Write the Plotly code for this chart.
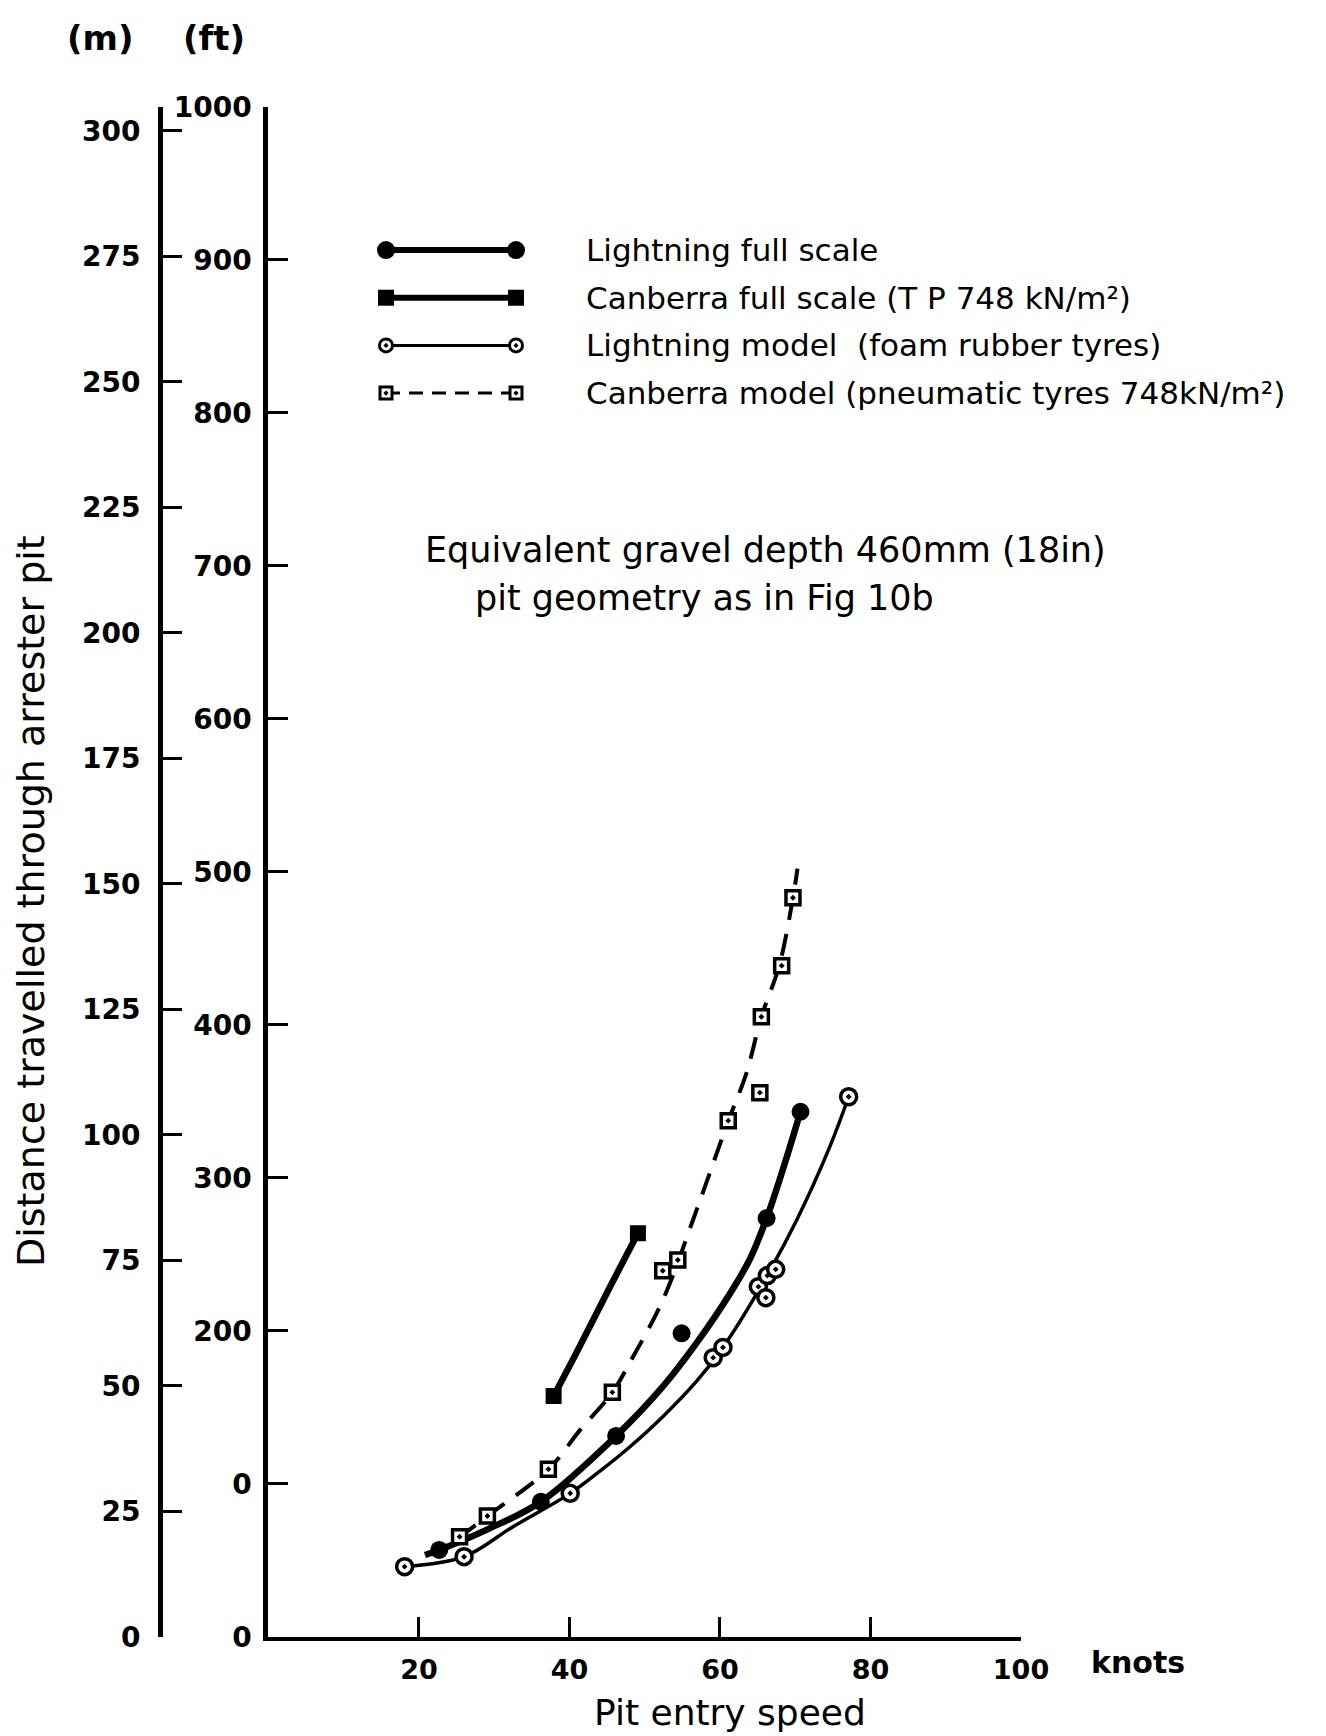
import plotly.graph_objects as go

# ---------------- data ----------------
# Lightning full scale (filled circles) - speed in knots, distance in ft
lf_speed = [22.7, 36.2, 46.2, 54.9, 66.2, 70.7]
lf_dist = [56.7, 88.2, 131.2, 198.3, 273.5, 343.1]
lf_curve_speed = [20.8, 22.7, 29.4, 36.2, 46.2, 52.4, 56.9, 61.3, 64.0, 66.2, 68.4, 70.7]
lf_curve_dist = [53.4, 56.7, 70.8, 88.2, 131.2, 163.4, 192.0, 224.0, 247.0, 273.5, 306.0, 343.1]

# Canberra full scale (filled squares)
cf_speed = [37.9, 49.1]
cf_dist = [157.3, 263.7]
cf_curve_speed = [37.9, 40.5, 43.1, 46.0, 49.1]
cf_curve_dist = [157.3, 181.5, 206.5, 234.5, 263.7]

# Lightning model (open circles)
lm_speed = [18.1, 26.0, 40.1, 59.1, 60.4, 65.1, 66.1, 66.3, 67.4, 77.1]
lm_dist = [45.8, 52.3, 93.7, 182.4, 189.1, 228.8, 221.6, 236.0, 240.1, 352.9]
lm_curve_speed = [18.1, 26.0, 32.5, 40.1, 44.0, 48.0, 52.4, 56.9, 60.4, 65.1, 70.2, 74.6, 77.1]
lm_curve_dist = [45.8, 52.3, 71.9, 93.7, 108.0, 124.0, 143.8, 167.0, 189.1, 226.0, 272.4, 320.3, 352.9]

# Canberra model (open squares, dashed)
cm_speed = [25.4, 29.1, 37.2, 45.7, 52.4, 54.4, 61.1, 65.3, 65.5, 68.2, 69.7]
cm_dist = [65.4, 78.9, 109.4, 159.7, 239.2, 246.2, 337.3, 355.6, 405.2, 438.6, 483.0]
cm_curve_speed = [21.0, 25.4, 29.1, 37.2, 41.4, 45.7, 48.0, 52.4, 56.9, 61.1, 63.5, 65.5, 67.9, 69.7, 70.3]
cm_curve_dist = [53.0, 65.4, 78.9, 109.4, 135.0, 159.7, 179.0, 220.0, 279.0, 337.0, 368.0, 405.0, 439.0, 483.0, 502.0]

# axis ticks
x_ticks = [20, 40, 60, 80, 100]
x_ticklabels = ["20", "40", "60", "80", "100"]
ft_ticks = [0, 100, 200, 300, 400, 500, 600, 700, 800, 900, 1000]
ft_ticklabels = ["0", "0", "200", "300", "400", "500", "600", "700", "800", "900", "1000"]
m_ticks = [0, 25, 50, 75, 100, 125, 150, 175, 200, 225, 250, 275, 300]
m_ticklabels = [str(v) for v in m_ticks]

legend_labels = [
    "Lightning full scale",
    "Canberra full scale (T P 748 kN/m²)",
    "Lightning model  (foam rubber tyres)",
    "Canberra model (pneumatic tyres 748kN/m²)",
]
legend_rows = [0, 1, 2, 3]

# ---------------- layout helpers ----------------
W, H = 1326, 1736


def fx(px):
    return px / W


def fy(py):
    return 1 - py / H


FONT = "DejaVu Sans"

fig = go.Figure()

# curves
fig.add_trace(go.Scatter(x=lm_curve_speed, y=lm_curve_dist, mode="lines",
                         line=dict(color="black", width=3.5, shape="spline", smoothing=1.0),
                         hoverinfo="skip"))
fig.add_trace(go.Scatter(x=cm_curve_speed, y=cm_curve_dist, mode="lines",
                         line=dict(color="black", width=4, dash="22px,14px", shape="spline", smoothing=1.0),
                         hoverinfo="skip"))
fig.add_trace(go.Scatter(x=lf_curve_speed, y=lf_curve_dist, mode="lines",
                         line=dict(color="black", width=6.5, shape="spline", smoothing=1.0),
                         hoverinfo="skip"))
fig.add_trace(go.Scatter(x=cf_curve_speed, y=cf_curve_dist, mode="lines",
                         line=dict(color="black", width=6.5, shape="spline", smoothing=1.0),
                         hoverinfo="skip"))

# markers
circ_open = dict(symbol="circle-dot", size=16, color="white", line=dict(color="black", width=3.5))
sq_open = dict(symbol="square-dot", size=14, color="white", line=dict(color="black", width=3.5))
circ_fill = dict(symbol="circle", size=18, color="black")
sq_fill = dict(symbol="square", size=16, color="black")

fig.add_trace(go.Scatter(x=lm_speed, y=lm_dist, mode="markers", marker=circ_open, name=legend_labels[2]))
fig.add_trace(go.Scatter(x=cm_speed, y=cm_dist, mode="markers", marker=sq_open, name=legend_labels[3]))
fig.add_trace(go.Scatter(x=lf_speed, y=lf_dist, mode="markers", marker=circ_fill, name=legend_labels[0]))
fig.add_trace(go.Scatter(x=cf_speed, y=cf_dist, mode="markers", marker=sq_fill, name=legend_labels[1]))

# invisible trace to bind metre axis
fig.add_trace(go.Scatter(x=[0], y=[0], yaxis="y2", mode="markers", marker=dict(opacity=0),
                         hoverinfo="skip"))

# legend glyphs on an auxiliary axis
styles = [
    (dict(color="black", width=6), circ_fill),
    (dict(color="black", width=6), sq_fill),
    (dict(color="black", width=3), dict(circ_open, size=13, line=dict(color="black", width=3))),
    (dict(color="black", width=3, dash="14px,9px"), dict(sq_open, size=12, line=dict(color="black", width=3))),
]
for r, (ln, mk) in zip(legend_rows, styles):
    fig.add_trace(go.Scatter(x=[0, 1], y=[r, r], xaxis="x3", yaxis="y3", mode="lines+markers",
                             line=ln, marker=mk, hoverinfo="skip", cliponaxis=False))

axis_common = dict(showgrid=False, zeroline=False, linecolor="black", tickcolor="black",
                   ticks="inside", color="black", automargin=False)

fig.update_layout(
    width=W, height=H, margin=dict(l=0, r=0, t=0, b=0, pad=0, autoexpand=False),
    paper_bgcolor="white", plot_bgcolor="white", showlegend=False,
    font=dict(family=FONT, color="black"),
    xaxis=dict(axis_common, domain=[fx(268.4), fx(1021)], range=[0, 100], anchor="y",
               showline=True, linewidth=4, ticklen=20, tickwidth=3,
               tickvals=x_ticks, ticktext=x_ticklabels, ticklabelstandoff=6,
               tickfont=dict(size=27, family=FONT, weight="bold")),
    yaxis=dict(axis_common, domain=[fy(1636.7), fy(106.7)], range=[0, 1000], anchor="x",
               showline=True, linewidth=5, ticklen=20, tickwidth=3,
               tickvals=ft_ticks, ticktext=ft_ticklabels, ticklabelstandoff=6,
               tickfont=dict(size=28, family=FONT, weight="bold")),
    yaxis2=dict(axis_common, overlaying="y", anchor="free", position=fx(160), side="left",
                range=[0, 304.8], showline=True, linewidth=5, ticklen=19, tickwidth=3,
                tickvals=m_ticks, ticktext=m_ticklabels, ticklabelstandoff=12,
                tickfont=dict(size=28, family=FONT, weight="bold")),
    xaxis3=dict(domain=[fx(386), fx(516)], range=[0, 1], visible=False, anchor="y3", automargin=False),
    yaxis3=dict(domain=[fy(250 + 3 * 47.7 + 23.8), fy(250 - 23.8)], range=[3.5, -0.5],
                visible=False, anchor="x3", automargin=False),
)

ann = []


def add_text(text, px, py, size, xanchor="center", angle=0, weight="normal"):
    ann.append(dict(text=text, x=fx(px), y=fy(py), xref="paper", yref="paper",
                    xanchor=xanchor, yanchor="middle", showarrow=False, textangle=angle,
                    font=dict(family=FONT, size=size, color="black", weight=weight)))


add_text("(m)", 100, 38, 34, weight="bold")
add_text("(ft)", 214, 38, 34, weight="bold")
add_text("Distance travelled through arrester pit", 31, 901, 38, angle=-90)
add_text("knots", 1138, 1662, 30, weight="bold")
add_text("Pit entry speed", 730, 1712, 36)
add_text("Equivalent gravel depth 460mm (18in)", 423, 550, 35, xanchor="left")
add_text("pit geometry as in Fig 10b", 473, 598, 35, xanchor="left")
for r, lab in zip(legend_rows, legend_labels):
    add_text(lab, 584, 250 + r * 47.7, 31, xanchor="left")

fig.update_layout(annotations=ann)

fig.write_html("out.html")
